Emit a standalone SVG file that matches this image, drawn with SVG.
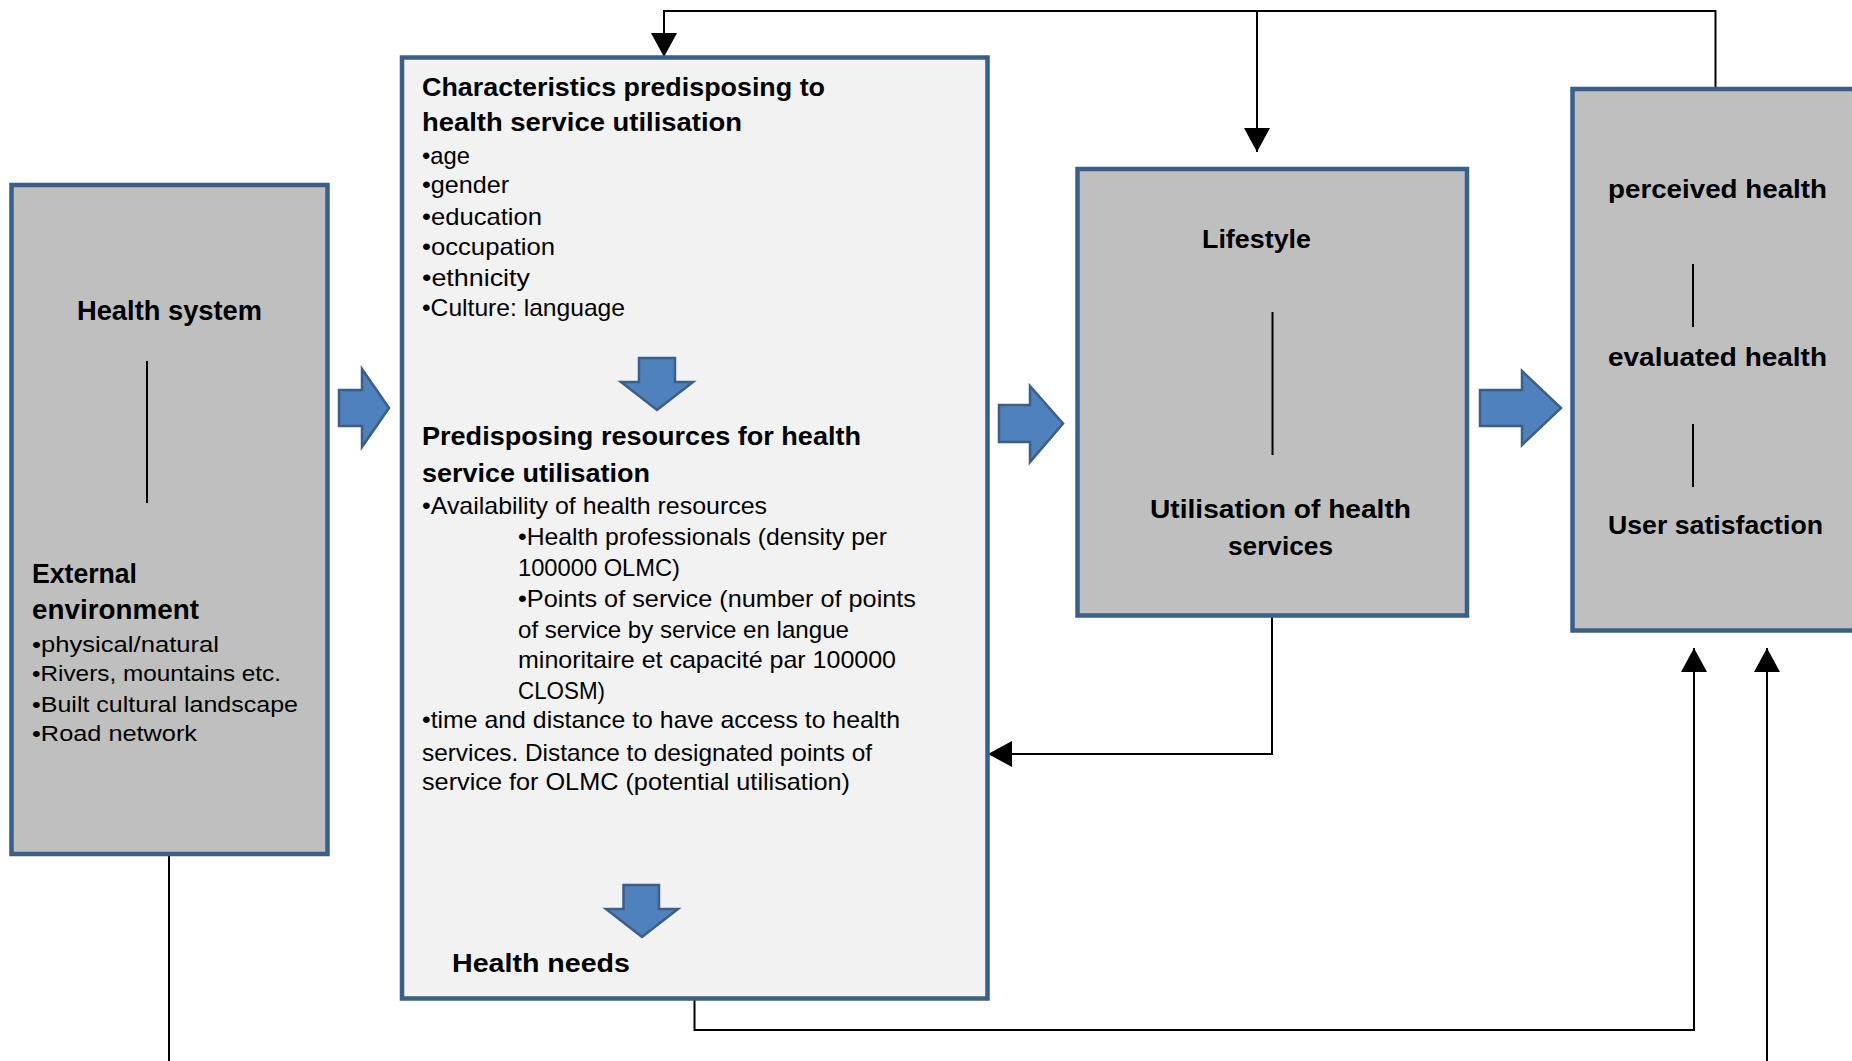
<svg xmlns="http://www.w3.org/2000/svg" width="1852" height="1061" viewBox="0 0 1852 1061">
<style>
.box{stroke:#3a5f8b;stroke-width:4.5}
.gray{fill:#bfbfbf}
.light{fill:#f2f2f2}
.blk{fill:#4f81bd;stroke:#3a5f8b;stroke-width:2.5;stroke-linejoin:miter}
.con{fill:none;stroke:#000;stroke-width:2}
.sep{stroke:#000;stroke-width:2}
text{font-family:"Liberation Sans",Arial,sans-serif;fill:#000}
.t{font-size:25px;font-weight:bold}
.n{font-size:24px}
.l{font-size:22px}
.h{font-size:27px;font-weight:bold}
.r{font-size:26px;font-weight:bold}
</style>
<defs>
<marker id="ah" viewBox="0 0 24 26" refX="24" refY="13" markerWidth="24" markerHeight="26" markerUnits="userSpaceOnUse" orient="auto">
<path d="M0,0 L24,13 L0,26 Z" fill="#000"/>
</marker>
</defs>

<g id="connectors">
<path class="con" d="M1715.5,89 V11 H664 V57" marker-end="url(#ah)"/>
<path class="con" d="M1257,11 V152" marker-end="url(#ah)"/>
<path class="con" d="M1272,617 V754 H988" marker-end="url(#ah)"/>
<path class="con" d="M694.5,1000 V1030 H1694 V648" marker-end="url(#ah)"/>
<path class="con" d="M1767,1061 V648" marker-end="url(#ah)"/>
<path class="con" d="M169,856 V1061"/>
</g>

<g id="health-system">
<rect class="box gray" x="11.5" y="185" width="316" height="669"/>
<text class="h" x="77" y="320" textLength="185" lengthAdjust="spacingAndGlyphs">Health system</text>
<line class="sep" x1="147" y1="361" x2="147" y2="503"/>
<text class="h" x="32" y="583" textLength="105" lengthAdjust="spacingAndGlyphs">External</text>
<text class="h" x="32" y="619" textLength="167" lengthAdjust="spacingAndGlyphs">environment</text>
<text class="l" x="32" y="652" textLength="187" lengthAdjust="spacingAndGlyphs">•physical/natural</text>
<text class="l" x="32" y="681" textLength="249" lengthAdjust="spacingAndGlyphs">•Rivers, mountains etc.</text>
<text class="l" x="32" y="712" textLength="266" lengthAdjust="spacingAndGlyphs">•Built cultural landscape</text>
<text class="l" x="32" y="741" textLength="165" lengthAdjust="spacingAndGlyphs">•Road network</text>
</g>

<g id="block-arrow-1">
<polygon class="blk" points="339,390 362,390 362,369 389,408 362,447 362,426 339,426"/>
</g>

<g id="predisposing">
<rect class="box light" x="402" y="57.5" width="585.5" height="941"/>
<text class="t" x="422" y="96" textLength="403" lengthAdjust="spacingAndGlyphs">Characteristics predisposing to</text>
<text class="t" x="422" y="131" textLength="320" lengthAdjust="spacingAndGlyphs">health service utilisation</text>
<text class="n" x="422" y="164" textLength="48" lengthAdjust="spacingAndGlyphs">•age</text>
<text class="n" x="422" y="193" textLength="87" lengthAdjust="spacingAndGlyphs">•gender</text>
<text class="n" x="422" y="225" textLength="120" lengthAdjust="spacingAndGlyphs">•education</text>
<text class="n" x="422" y="255" textLength="133" lengthAdjust="spacingAndGlyphs">•occupation</text>
<text class="n" x="422" y="286" textLength="108" lengthAdjust="spacingAndGlyphs">•ethnicity</text>
<text class="n" x="422" y="316" textLength="203" lengthAdjust="spacingAndGlyphs">•Culture: language</text>
<polygon class="blk" points="639,358 675,358 675,382 693,382 657,410 621,382 639,382"/>
<text class="t" x="422" y="445" textLength="439" lengthAdjust="spacingAndGlyphs">Predisposing resources for health</text>
<text class="t" x="422" y="482" textLength="228" lengthAdjust="spacingAndGlyphs">service utilisation</text>
<text class="n" x="422" y="514" textLength="345" lengthAdjust="spacingAndGlyphs">•Availability of health resources</text>
<text class="n" x="518" y="545" textLength="369" lengthAdjust="spacingAndGlyphs">•Health professionals (density per</text>
<text class="n" x="518" y="576" textLength="162" lengthAdjust="spacingAndGlyphs">100000 OLMC)</text>
<text class="n" x="518" y="607" textLength="398" lengthAdjust="spacingAndGlyphs">•Points of service (number of points</text>
<text class="n" x="518" y="638" textLength="331" lengthAdjust="spacingAndGlyphs">of service by service en langue</text>
<text class="n" x="518" y="668" textLength="378" lengthAdjust="spacingAndGlyphs">minoritaire et capacité par 100000</text>
<text class="n" x="518" y="699" textLength="87" lengthAdjust="spacingAndGlyphs">CLOSM)</text>
<text class="n" x="422" y="728" textLength="478" lengthAdjust="spacingAndGlyphs">•time and distance to have access to health</text>
<text class="n" x="422" y="761" textLength="450" lengthAdjust="spacingAndGlyphs">services. Distance to designated points of</text>
<text class="n" x="422" y="790" textLength="428" lengthAdjust="spacingAndGlyphs">service for OLMC (potential utilisation)</text>
<polygon class="blk" points="623.5,885 659,885 659,909 678,909 642,937 606,909 623.5,909"/>
<text class="t" x="452" y="972" textLength="178" lengthAdjust="spacingAndGlyphs">Health needs</text>
</g>

<g id="block-arrow-2">
<polygon class="blk" points="999,405 1030,405 1030,386 1063,423.5 1030,462 1030,442 999,442"/>
</g>

<g id="lifestyle">
<rect class="box gray" x="1077.5" y="169" width="389.5" height="446.5"/>
<text class="r" x="1202" y="248" textLength="109" lengthAdjust="spacingAndGlyphs">Lifestyle</text>
<line class="sep" x1="1272.5" y1="312" x2="1272.5" y2="455"/>
<text class="r" x="1150" y="518" textLength="261" lengthAdjust="spacingAndGlyphs">Utilisation of health</text>
<text class="r" x="1228" y="555" textLength="105" lengthAdjust="spacingAndGlyphs">services</text>
</g>

<g id="block-arrow-3">
<polygon class="blk" points="1480,390 1522,390 1522,371 1561,408 1522,445 1522,426 1480,426"/>
</g>

<g id="health-outcomes">
<rect class="box gray" x="1572.5" y="89" width="300" height="541.5"/>
<text class="r" x="1608" y="198" textLength="219" lengthAdjust="spacingAndGlyphs">perceived health</text>
<line class="sep" x1="1693" y1="264" x2="1693" y2="327"/>
<text class="r" x="1608" y="366" textLength="219" lengthAdjust="spacingAndGlyphs">evaluated health</text>
<line class="sep" x1="1693" y1="424" x2="1693" y2="487"/>
<text class="r" x="1608" y="534" textLength="215" lengthAdjust="spacingAndGlyphs">User satisfaction</text>
</g>
</svg>
